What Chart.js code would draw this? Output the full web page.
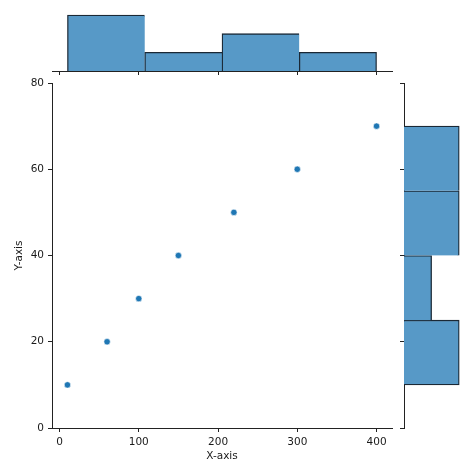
<!DOCTYPE html>
<html>
<head>
<meta charset="utf-8">
<script src="https://cdn.jsdelivr.net/npm/chart.js@4.4.1/dist/chart.umd.min.js"></script>
<style>
  html, body { margin: 0; padding: 0; background: #fff; }
  #wrap { position: relative; width: 474px; height: 474px; }
  canvas { position: absolute; left: 0; top: 0; }
</style>
</head>
<body>
<div id="wrap">
  <canvas id="main" width="474" height="474"></canvas>
  <canvas id="top" width="474" height="474"></canvas>
  <canvas id="right" width="474" height="474"></canvas>
</div>
<script>
// scatter points
const xVals = [10, 60, 100, 150, 220, 300, 400];
const yVals = [10, 20, 30, 40, 50, 60, 70];

// tick labels
const xTicks = [0, 100, 200, 300, 400];
const yTicks = [0, 20, 40, 60, 80];

// marginal histograms (bin edges + counts)
const xEdges = [10, 107.5, 205, 302.5, 400];
const xCounts = [3, 1, 2, 1];
const yEdges = [10, 25, 40, 55, 70];
const yCounts = [2, 1, 2, 2];

const X_MIN = -9.5, X_MAX = 419.5;
const Y_MIN = 0, Y_MAX = 80;

const AX = '#222';
const BAR_FILL = '#5799c7';
const BAR_EDGE = '#1a2835';

Chart.defaults.font.family = "'DejaVu Sans', sans-serif";
Chart.defaults.font.size = 10.5;
Chart.defaults.color = '#1a1a1a';
Chart.defaults.animation = false;
Chart.defaults.responsive = false;
Chart.defaults.plugins.legend.display = false;
Chart.defaults.plugins.tooltip.enabled = false;

const setTicks = vals => scale => { scale.ticks = vals.map(v => ({ value: v })); };

function spine(extra) {
  return Object.assign({
    type: 'linear',
    offset: false,
    grid: { offset: false, drawOnChartArea: false, drawTicks: true, tickLength: 4, color: AX, lineWidth: 1 },
    border: { display: true, color: AX, width: 1 },
  }, extra);
}

// joint scatter
new Chart(document.getElementById('main'), {
  type: 'scatter',
  data: {
    datasets: [{
      data: xVals.map((x, i) => ({ x, y: yVals[i] })),
      pointRadius: 3.2,
      pointBackgroundColor: '#1f77b4',
      pointBorderColor: '#fff',
      pointBorderWidth: 0.6,
    }],
  },
  options: {
    layout: { padding: { left: 0, top: 83, right: 82, bottom: 0 } },
    scales: {
      x: spine({
        min: X_MIN, max: X_MAX,
        afterBuildTicks: setTicks(xTicks),
        afterFit: s => { s.height = 46; },
        ticks: { padding: 4, maxRotation: 0, autoSkip: false },
        title: { display: true, text: 'X-axis', padding: { top: 0, bottom: 11.7 } },
      }),
      y: spine({
        min: Y_MIN, max: Y_MAX,
        afterBuildTicks: setTicks(yTicks),
        afterFit: s => { s.width = 52; },
        ticks: { padding: 4, autoSkip: false },
        title: { display: true, text: 'Y-axis', padding: { top: 13.2, bottom: 0 } },
      }),
    },
  },
});

// top marginal histogram
const lastX = xCounts.length - 1;
new Chart(document.getElementById('top'), {
  type: 'bar',
  data: {
    datasets: [{
      data: xCounts.map((c, i) => ({ x: (xEdges[i] + xEdges[i + 1]) / 2, y: c })),
      backgroundColor: BAR_FILL,
      borderColor: BAR_EDGE,
      borderWidth: ctx => ({ top: 1.3, left: 1.3, right: ctx.dataIndex === lastX ? 1.3 : 0, bottom: 0 }),
      borderSkipped: false,
      barPercentage: 1,
      categoryPercentage: 1,
    }],
  },
  options: {
    layout: { padding: { left: 52, top: 12.2, right: 82, bottom: 399 } },
    scales: {
      x: spine({
        min: X_MIN, max: X_MAX,
        afterBuildTicks: setTicks(xTicks),
        afterFit: s => { s.height = 4; },
        ticks: { display: false },
      }),
      y: { type: 'linear', display: false, min: 0, max: 3.15 },
    },
  },
});

// right marginal histogram
new Chart(document.getElementById('right'), {
  type: 'bar',
  data: {
    datasets: [{
      data: yCounts.map((c, i) => ({ y: (yEdges[i] + yEdges[i + 1]) / 2, x: c })),
      backgroundColor: BAR_FILL,
      borderColor: BAR_EDGE,
      borderWidth: ctx => ({ top: 1.3, right: 1.3, bottom: ctx.dataIndex === 0 ? 1.3 : 0, left: 0 }),
      borderSkipped: false,
      barPercentage: 1,
      categoryPercentage: 1,
    }],
  },
  options: {
    indexAxis: 'y',
    layout: { padding: { left: 400, top: 83, right: 12, bottom: 46 } },
    scales: {
      x: { type: 'linear', display: false, min: 0, max: 2.1 },
      y: spine({
        min: Y_MIN, max: Y_MAX,
        afterBuildTicks: setTicks(yTicks),
        afterFit: s => { s.width = 4; },
        ticks: { display: false },
      }),
    },
  },
});
</script>
</body>
</html>
